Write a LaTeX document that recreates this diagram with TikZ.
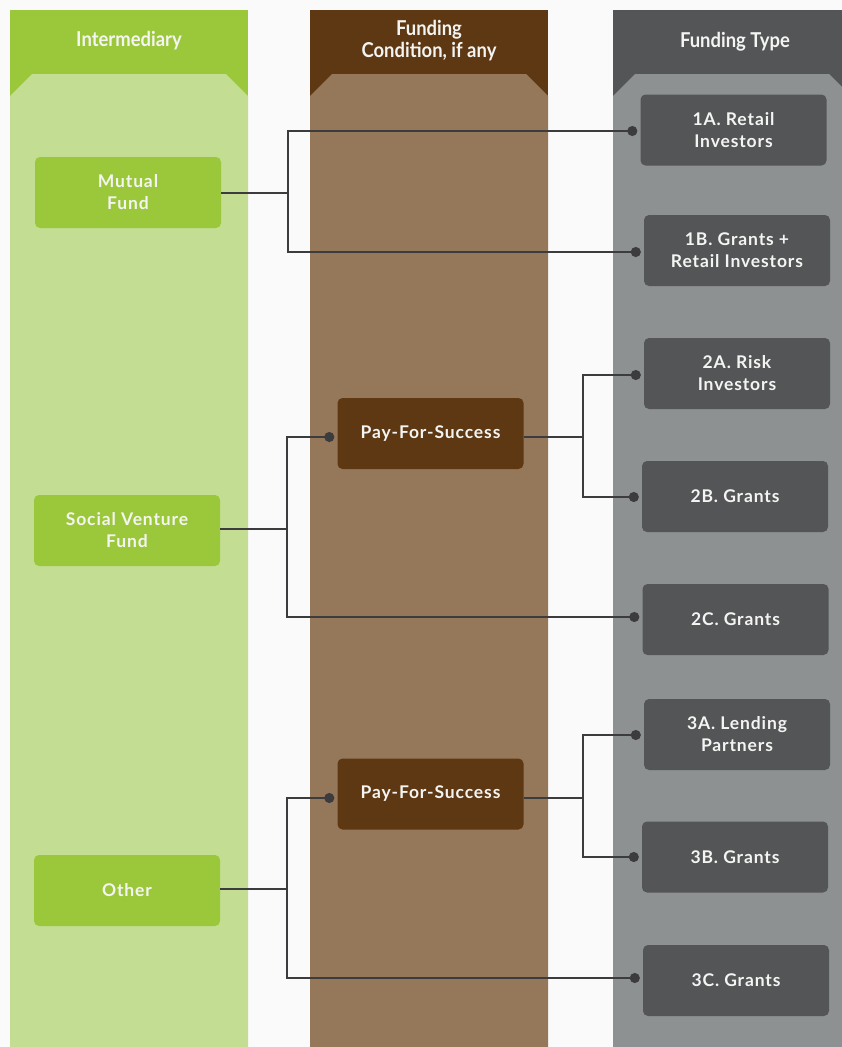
\documentclass[tikz,border=0pt]{standalone}
\usepackage{fontspec}
\setmainfont{Lato}
\newfontfamily\boxfont[LetterSpace=5]{Lato Bold}
\newfontfamily\headfont[FakeStretch=0.9]{Lato Bold}
\usetikzlibrary{arrows.meta}

\definecolor{pagebg}{HTML}{FAFAFA}
\definecolor{grnDark}{HTML}{9BC83A}
\definecolor{grnLight}{HTML}{C3DD92}
\definecolor{brnDark}{HTML}{5D3813}
\definecolor{brnLight}{HTML}{95785A}
\definecolor{gryDark}{HTML}{545557}
\definecolor{gryLight}{HTML}{8E9192}
\definecolor{wire}{HTML}{3C3C3E}
\definecolor{label}{HTML}{F4F4F2}

\tikzset{
  card/.style={rounded corners=5pt, minimum width=186pt, minimum height=71pt,
    inner sep=0pt, align=center, text=label,
    font=\boxfont\fontsize{17.5}{22}\selectfont},
  greencard/.style={card, fill=grnDark},
  browncard/.style={card, fill=brnDark},
  greycard/.style={card, fill=gryDark},
  heading/.style={text=label, align=center, font=\headfont\fontsize{20.5}{22}\selectfont},
  wireline/.style={draw=wire, line width=2pt},
  dotted end/.style={wireline, -{Circle[length=10pt]}},
}

\begin{document}
\begin{tikzpicture}[x=1pt,y=-1pt]
\useasboundingbox (0,0) rectangle (842,1047);
\fill[pagebg] (0,0) rectangle (842,1047);

% three columns: dark header block, lighter body with slanted shoulders
\fill[grnDark] (10,10) rectangle (248,96);
\fill[grnLight] (10,96) -- (32,74) -- (226,74) -- (248,96) -- (248,1047) -- (10,1047) -- cycle;
\fill[brnDark] (310,10) rectangle (548,96);
\fill[brnLight] (310,96) -- (332,74) -- (526,74) -- (548,96) -- (548,1047) -- (310,1047) -- cycle;
\fill[gryDark] (613,10) rectangle (851,96);
\fill[gryLight] (613,96) -- (635,74) -- (829,74) -- (851,96) -- (851,1047) -- (613,1047) -- cycle;

\node[heading] (h1) at (129,41) {Intermediary};
\node[heading] (h2) at (429,41) {Funding\\Condition, if any};
\node[heading] (h3) at (735,42) {Funding Type};

% intermediaries
\node[greencard] (mf)  at (128,192.5) {Mutual\\Fund};
\node[greencard] (svf) at (127,530.5) {Social Venture\\Fund};
\node[greencard] (oth) at (127,890.5) {Other};

% funding conditions
\node[browncard] (pfs1) at (430.5,433.5) {Pay-For-Success};
\node[browncard] (pfs2) at (430.5,794) {Pay-For-Success};

% funding types
\node[greycard] (t1a) at (733.5,130)   {1A. Retail\\Investors};
\node[greycard] (t1b) at (737,250.5)   {1B. Grants +\\Retail Investors};
\node[greycard] (t2a) at (737,373.5)   {2A. Risk\\Investors};
\node[greycard] (t2b) at (735,496.5)   {2B. Grants};
\node[greycard] (t2c) at (735.5,619.5) {2C. Grants};
\node[greycard] (t3a) at (737,734.5)   {3A. Lending\\Partners};
\node[greycard] (t3b) at (735,857)     {3B. Grants};
\node[greycard] (t3c) at (736,980.5)   {3C. Grants};

% junction points of the elbow connectors
\coordinate (k1) at (288,193);
\coordinate (k2) at (287,529);
\coordinate (k3) at (583,437);
\coordinate (k4) at (287,889);
\coordinate (k5) at (583,798);

\draw[wireline] (mf.east |- k1) -- (k1);
\draw[dotted end] (k1) |- ([xshift=-3pt]t1a.west |- 0,131);
\draw[dotted end] (k1) |- ([xshift=-3pt]t1b.west |- 0,252);

\draw[wireline] (svf.east |- k2) -- (k2);
\draw[dotted end] (k2) |- ([xshift=-3pt]pfs1.west |- 0,437);
\draw[dotted end] (k2) |- ([xshift=-3pt]t2c.west |- 0,617);

\draw[wireline] (pfs1.east |- k3) -- (k3);
\draw[dotted end] (k3) |- ([xshift=-3pt]t2a.west |- 0,375);
\draw[dotted end] (k3) |- ([xshift=-3pt]t2b.west |- 0,497);

\draw[wireline] (oth.east |- k4) -- (k4);
\draw[dotted end] (k4) |- ([xshift=-3pt]pfs2.west |- 0,798);
\draw[dotted end] (k4) |- ([xshift=-3pt]t3c.west |- 0,978);

\draw[wireline] (pfs2.east |- k5) -- (k5);
\draw[dotted end] (k5) |- ([xshift=-3pt]t3a.west |- 0,735);
\draw[dotted end] (k5) |- ([xshift=-3pt]t3b.west |- 0,857);
\end{tikzpicture}
\end{document}
